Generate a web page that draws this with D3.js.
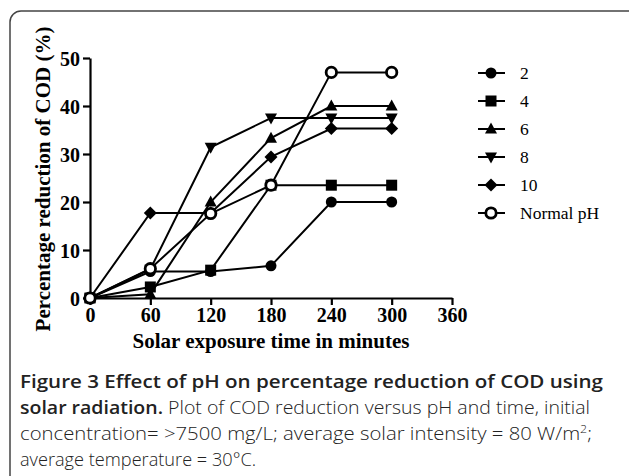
<!DOCTYPE html>
<html>
<head>
<meta charset="utf-8">
<script src="https://cdn.jsdelivr.net/npm/d3@7"></script>
<style>
  body { margin: 0; background: #fff; }
  svg { display: block; }
</style>
</head>
<body>
<div id="chart"></div>
<script>
var times = [0, 60, 120, 180, 240, 300];
var xTicks = [0, 60, 120, 180, 240, 300, 360];
var yTicks = [0, 10, 20, 30, 40, 50];
var seriesNames = ["2", "4", "6", "8", "10", "Normal pH"];
var ph2 = [0, 5.5, 5.5, 6.7, 20, 20];
var ph4 = [0, 2.3, 5.8, 23.5, 23.5, 23.5];
var ph6 = [0, 0.8, 20, 33.3, 40, 40];
var ph8 = [0, 6, 31.4, 37.5, 37.5, 37.5];
var ph10 = [0, 17.7, 17.7, 29.4, 35.3, 35.3];
var phNormal = [0, 6.1, 17.6, 23.5, 47, 47];
var symbols = ["circle", "square", "triangle", "invtriangle", "diamond", "opencircle"];

var allSeries = [ph2, ph4, ph6, ph8, ph10, phNormal].map(function (vals, i) {
    return { name: seriesNames[i], sym: symbols[i], values: vals.map(function (v, j) { return { t: times[j], v: v }; }) };
});

var W = 629, H = 476;
var svg = d3.select("#chart").append("svg").attr("width", W).attr("height", H);

// rounded frame
svg.append("rect")
    .attr("x", 10).attr("y", 11).attr("width", 640).attr("height", 500)
    .attr("rx", 11).attr("ry", 11)
    .attr("fill", "none").attr("stroke", "#444").attr("stroke-width", 1.5);

var x = d3.scaleLinear().domain([0, 360]).range([90, 452]);
var y = d3.scaleLinear().domain([0, 50]).range([298, 58]);

var serif = "'Liberation Serif', 'Times New Roman', serif";

var xAxis = svg.append("g")
    .attr("transform", "translate(0,298)")
    .call(d3.axisBottom(x).tickValues(xTicks).tickSize(7).tickPadding(3).tickSizeOuter(0));
var yAxis = svg.append("g")
    .attr("transform", "translate(90,0)")
    .call(d3.axisLeft(y).tickValues(yTicks).tickSize(7).tickPadding(3).tickSizeOuter(0));

[xAxis, yAxis].forEach(function (g) {
    g.selectAll(".domain").attr("stroke", "#000").attr("stroke-width", 2.2);
    g.selectAll(".tick line").attr("stroke", "#000").attr("stroke-width", 2.2);
    g.selectAll(".tick text")
        .attr("fill", "#000")
        .style("font-family", serif).style("font-weight", "bold").style("font-size", "20px");
});
yAxis.selectAll(".tick text").attr("dy", "0.35em");

svg.append("text")
    .attr("x", 271).attr("y", 348)
    .attr("text-anchor", "middle")
    .style("font-family", serif).style("font-weight", "bold").style("font-size", "21px")
    .text("Solar exposure time in minutes");

svg.append("text")
    .attr("transform", "translate(50,179) rotate(-90)")
    .attr("text-anchor", "middle")
    .style("font-family", serif).style("font-weight", "bold").style("font-size", "21px")
    .text("Percentage reduction of COD (%)");

var line = d3.line()
    .x(function (d) { return x(d.t); })
    .y(function (d) { return y(d.v); });

function drawMarker(g, sym, cx, cy) {
    if (sym === "circle") {
        g.append("circle").attr("cx", cx).attr("cy", cy).attr("r", 5.5).attr("fill", "#000");
    } else if (sym === "opencircle") {
        g.append("circle").attr("cx", cx).attr("cy", cy).attr("r", 5.2)
            .attr("fill", "#fff").attr("stroke", "#000").attr("stroke-width", 2.8);
    } else if (sym === "square") {
        g.append("rect").attr("x", cx - 5.5).attr("y", cy - 5.5).attr("width", 11).attr("height", 11).attr("fill", "#000");
    } else if (sym === "triangle") {
        g.append("path").attr("d", "M" + cx + "," + (cy - 6.5) + "L" + (cx + 6) + "," + (cy + 4.5) + "L" + (cx - 6) + "," + (cy + 4.5) + "Z").attr("fill", "#000");
    } else if (sym === "invtriangle") {
        g.append("path").attr("d", "M" + cx + "," + (cy + 6.5) + "L" + (cx + 6) + "," + (cy - 4.5) + "L" + (cx - 6) + "," + (cy - 4.5) + "Z").attr("fill", "#000");
    } else if (sym === "diamond") {
        g.append("path").attr("d", "M" + cx + "," + (cy - 6.5) + "L" + (cx + 6.5) + "," + cy + "L" + cx + "," + (cy + 6.5) + "L" + (cx - 6.5) + "," + cy + "Z").attr("fill", "#000");
    }
}

allSeries.forEach(function (s) {
    svg.append("path")
        .datum(s.values)
        .attr("d", line)
        .attr("fill", "none")
        .attr("stroke", "#000")
        .attr("stroke-width", 2);
});
allSeries.forEach(function (s) {
    var g = svg.append("g");
    s.values.forEach(function (d) { drawMarker(g, s.sym, x(d.t), y(d.v)); });
});

// legend
var legend = svg.append("g");
allSeries.forEach(function (s, i) {
    var ly = 73 + i * 28;
    legend.append("line").attr("x1", 478).attr("x2", 505).attr("y1", ly).attr("y2", ly)
        .attr("stroke", "#000").attr("stroke-width", 2);
    drawMarker(legend, s.sym, 491, ly);
    legend.append("text").attr("x", 520).attr("y", ly).attr("dy", "0.35em")
        .style("font-family", serif).style("font-size", "17.5px")
        .text(s.name);
});

// caption
var sans = "'Open Sans', 'Noto Sans', sans-serif";
var cap = svg.append("g").style("font-family", sans).style("font-size", "18px").attr("fill", "#222");
cap.append("text").attr("x", 20).attr("y", 388).style("font-weight", "600")
    .attr("textLength", 583).attr("lengthAdjust", "spacingAndGlyphs")
    .text("Figure 3 Effect of pH on percentage reduction of COD using");
var l2 = cap.append("text").attr("x", 20).attr("y", 414)
    .attr("textLength", 570).attr("lengthAdjust", "spacingAndGlyphs");
l2.append("tspan").style("font-weight", "600").text("solar radiation.");
l2.append("tspan").style("font-weight", "300").text(" Plot of COD reduction versus pH and time, initial");
var l3 = cap.append("text").attr("x", 20).attr("y", 440).style("font-weight", "300")
    .attr("textLength", 572).attr("lengthAdjust", "spacingAndGlyphs");
l3.append("tspan").text("concentration= >7500 mg/L; average solar intensity = 80 W/m");
l3.append("tspan").attr("dy", -7).style("font-size", "11px").text("2");
l3.append("tspan").attr("dy", 7).text(";");
cap.append("text").attr("x", 20).attr("y", 466).style("font-weight", "300")
    .attr("textLength", 236).attr("lengthAdjust", "spacingAndGlyphs")
    .text("average temperature = 30\u00b0C.");
</script>
</body>
</html>
